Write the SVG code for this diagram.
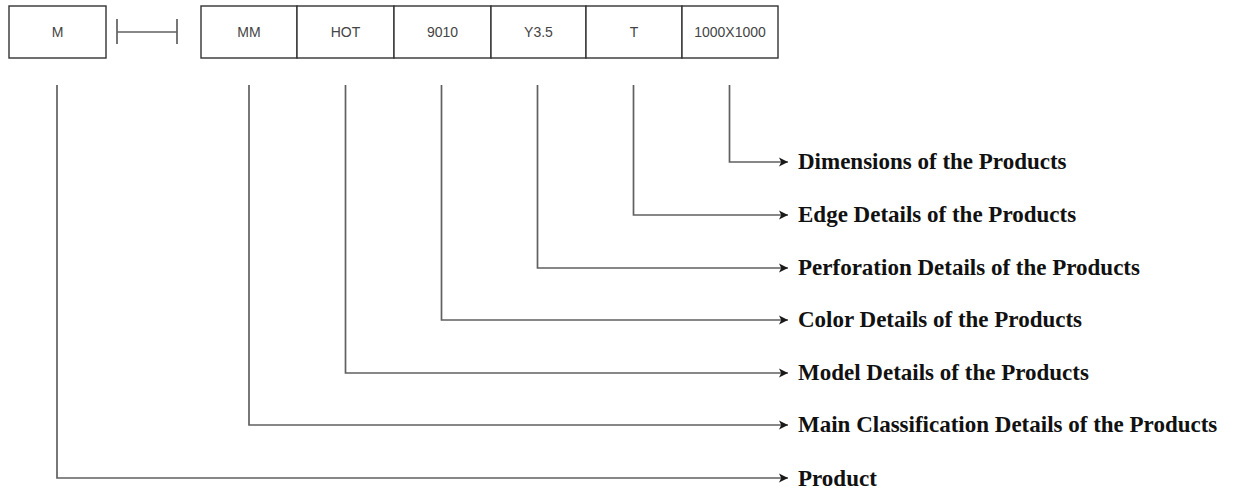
<svg xmlns="http://www.w3.org/2000/svg" width="1241" height="494" viewBox="0 0 1241 494">
  <style>
    .box { fill: #ffffff; stroke: #333333; stroke-width: 1.4; }
    .cell { font-family: "Liberation Sans", Arial, sans-serif; font-size: 14px; fill: #444444; text-anchor: middle; }
    .wire { fill: none; stroke: #606060; stroke-width: 1.7; }
    .bar { fill: none; stroke: #606060; stroke-width: 1.7; }
    .label { font-family: "Liberation Serif", "Times New Roman", serif; font-size: 23px; font-weight: bold; fill: #111111; }
  </style>
  <defs>
    <marker id="arrow" markerWidth="10" markerHeight="12" refX="9" refY="6" orient="auto" markerUnits="userSpaceOnUse">
      <path d="M0,1.5 L9,6 L0,10.5 L2.2,6 Z" fill="#1a1a1a"/>
    </marker>
  </defs>
  <rect width="1241" height="494" fill="#ffffff"/>

  <!-- prefix box -->
  <g id="node-m">
    <rect class="box" x="9" y="6" width="97" height="52"/>
    <text class="cell" x="57.5" y="37">M</text>
  </g>

  <!-- separator between prefix and code fields -->
  <g id="node-separator">
    <line class="bar" x1="117" y1="19" x2="117" y2="44"/>
    <line class="bar" x1="117" y1="32" x2="177" y2="32"/>
    <line class="bar" x1="177" y1="19" x2="177" y2="44"/>
  </g>

  <!-- code fields -->
  <g id="node-mm">
    <rect class="box" x="201" y="6" width="96" height="52"/>
    <text class="cell" x="249" y="37">MM</text>
  </g>
  <g id="node-hot">
    <rect class="box" x="297" y="6" width="97" height="52"/>
    <text class="cell" x="345.5" y="37">HOT</text>
  </g>
  <g id="node-9010">
    <rect class="box" x="394" y="6" width="97" height="52"/>
    <text class="cell" x="442.5" y="37">9010</text>
  </g>
  <g id="node-y35">
    <rect class="box" x="491" y="6" width="95" height="52"/>
    <text class="cell" x="538.5" y="37">Y3.5</text>
  </g>
  <g id="node-t">
    <rect class="box" x="586" y="6" width="96" height="52"/>
    <text class="cell" x="634" y="37">T</text>
  </g>
  <g id="node-size">
    <rect class="box" x="682" y="6" width="96" height="52"/>
    <text class="cell" x="730" y="37">1000X1000</text>
  </g>

  <!-- leader lines -->
  <g id="connectors">
    <path class="wire" d="M729.5,85 V162 H788" marker-end="url(#arrow)"/>
    <path class="wire" d="M633.5,85 V215 H788" marker-end="url(#arrow)"/>
    <path class="wire" d="M537.5,85 V268 H788" marker-end="url(#arrow)"/>
    <path class="wire" d="M441.5,85 V320 H788" marker-end="url(#arrow)"/>
    <path class="wire" d="M345.5,85 V373 H788" marker-end="url(#arrow)"/>
    <path class="wire" d="M249,85 V425 H788" marker-end="url(#arrow)"/>
    <path class="wire" d="M57,85 V478 H788" marker-end="url(#arrow)"/>
  </g>

  <!-- descriptions -->
  <g id="labels">
    <text class="label" x="798" y="169">Dimensions of the Products</text>
    <text class="label" x="798" y="222">Edge Details of the Products</text>
    <text class="label" x="798" y="275">Perforation Details of the Products</text>
    <text class="label" x="798" y="327">Color Details of the Products</text>
    <text class="label" x="798" y="380">Model Details of the Products</text>
    <text class="label" x="798" y="432">Main Classification Details of the Products</text>
    <text class="label" x="798" y="486">Product</text>
  </g>
</svg>
